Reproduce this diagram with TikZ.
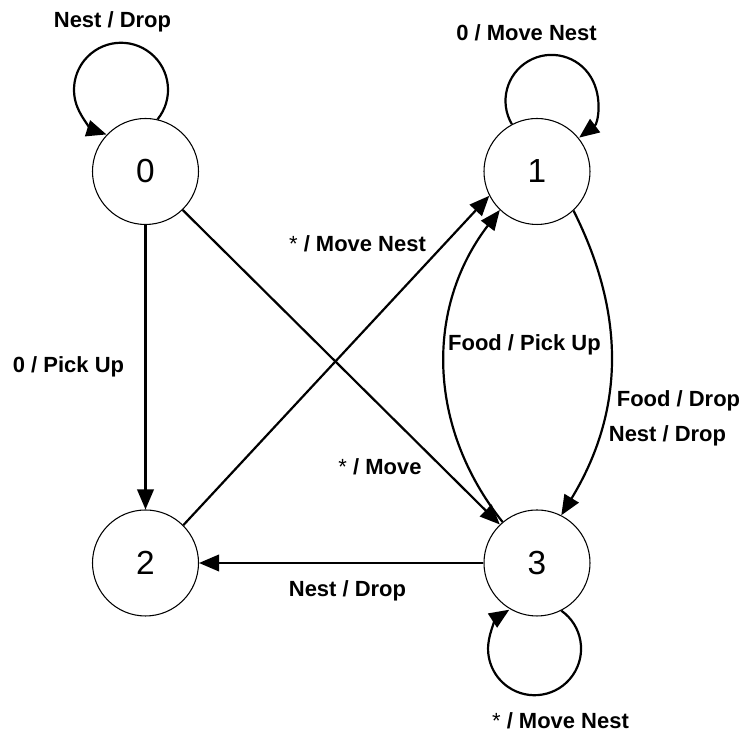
\documentclass[tikz,border=0pt]{standalone}
\usepackage{fontspec}
\setmainfont{Liberation Sans}
\usepackage{tikz}
\usetikzlibrary{arrows.meta}

\newcommand{\anyin}{{\mdseries*}}

\begin{document}
\begin{tikzpicture}[
	state/.style={circle,draw,line width=0.6pt,minimum size=2.12cm,inner sep=0pt,font=\fontsize{19}{19}\selectfont},
	trans/.style={line width=1.25pt,-{Triangle[length=4mm,width=3.3mm]}},
	lbl/.style={anchor=base,inner sep=0pt,font=\bfseries\fontsize{12.5}{12.5}\selectfont}]
	\useasboundingbox (0,0) rectangle (14.94,14.76);
	% states
	\node[state] (s0) at (2.91,11.33) {0};
	\node[state] (s1) at (10.74,11.33) {1};
	\node[state] (s2) at (2.91,3.50) {2};
	\node[state] (s3) at (10.74,3.50) {3};
	% self loops
	\draw[trans] (s0.77) arc[start angle=-39,end angle=252,radius=0.94];
	\draw[trans] (s1.118) arc[start angle=210.5,end angle=-53,radius=0.92];
	\draw[trans] (s3.-63) arc[start angle=54.9,end angle=-237,radius=0.93];
	% transitions
	\draw[trans] (s0) -- (s2);
	\draw[trans] (s2.45) -- (s1.207);
	\draw[trans] (s0.-46) -- (s3.134);
	\draw[trans] (s3) -- (s2);
	\draw[trans] (s3.130) to[bend left=38] (s1.226);
	\draw[trans] (s1.-47) to[bend left=29] (s3.63);
	% labels
	\node[lbl] (l00) at (2.25,14.20) {Nest / Drop};
	\node[lbl] (l11) at (10.53,13.94) {0 / Move Nest};
	\node[lbl] (l21) at (7.15,9.72) {\anyin\ / Move Nest};
	\node[lbl] (l02) at (1.37,7.30) {0 / Pick Up};
	\node[lbl] (l03) at (7.60,5.26) {\anyin\ / Move};
	\node[lbl] (l31) at (10.49,7.74) {Food / Pick Up};
	\node[lbl] (l13a) at (13.57,6.62) {Food / Drop};
	\node[lbl] (l13b) at (13.35,5.92) {Nest / Drop};
	\node[lbl] (l32) at (6.95,2.82) {Nest / Drop};
	\node[lbl] (l33) at (11.21,0.18) {\anyin\ / Move Nest};
\end{tikzpicture}
\end{document}
